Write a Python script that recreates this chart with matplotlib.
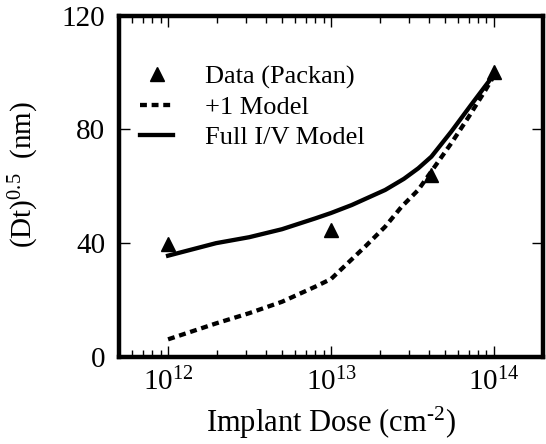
import numpy as np
import matplotlib.pyplot as plt

plt.rcParams['font.family'] = ['Liberation Serif', 'DejaVu Serif']
plt.rcParams['mathtext.fontset'] = 'custom'
plt.rcParams['mathtext.rm'] = 'Liberation Serif'
plt.rcParams['mathtext.it'] = 'Liberation Serif:italic'

# values
data_dose = [1e12, 1e13, 4.1e13, 1e14]
data_dt = [39.7, 44.6, 64, 100]

plus1_dose = [1e12, 1.97e12, 3.15e12, 5e12, 8e12, 1e13, 1.62e13, 2.15e13,
              2.71e13, 3.43e13, 4.33e13, 5.47e13, 7e13, 8.87e13, 1e14]
plus1_dt = [6.2, 11.8, 15.4, 19.4, 24.7, 27.4, 38.8, 45.8,
            52.8, 58.7, 66.9, 75.1, 84.4, 93.8, 98.8]

full_dose = [1e12, 1.97e12, 3.15e12, 5e12, 8e12, 1e13, 1.34e13, 2.15e13,
             2.8e13, 3.43e13, 4.13e13, 5.47e13, 7.24e13, 9.6e13, 1e14]
full_dt = [35.6, 40.0, 42.1, 44.9, 48.7, 50.6, 53.4, 58.7,
           62.6, 66.3, 70.4, 79.2, 88.6, 97.9, 99.7]

fig = plt.figure(figsize=(5.46, 4.44), dpi=100)
ax = fig.add_axes([0.218, 0.196, 0.7765, 0.769])

ax.plot(data_dose, data_dt, linestyle='none', marker='^', color='black',
        markersize=9.5, label='Data (Packan)')
ax.plot(plus1_dose, plus1_dt, color='black', linewidth=3.1, dashes=(1.6, 1.1),
        label='+1 Model')
ax.plot(full_dose, full_dt, color='black', linewidth=3.1, label='Full I/V Model')

ax.set_xscale('log')
ax.set_xlim(5e11, 2e14)
ax.set_ylim(0, 120)
ax.set_xticks([1e12, 1e13, 1e14])
ax.set_xticklabels([r'$10^{12}$', r'$10^{13}$', r'$10^{14}$'])
ax.set_yticks([0, 40, 80, 120])

for s in ax.spines.values():
    s.set_linewidth(3.2)
ax.tick_params(which='both', direction='in', top=True, right=True, width=1)
ax.tick_params(which='major', length=8)
ax.tick_params(which='minor', length=5)
ax.tick_params(axis='x', labelsize=21, pad=8)
ax.tick_params(axis='y', labelsize=21, pad=10)

ax.set_xlabel('Implant Dose (cm$^{\u20102}$)', fontsize=22, labelpad=6)
ax.set_ylabel(r'(Dt)$^{0.5}$  (nm)', fontsize=21)
ax.yaxis.set_label_coords(-0.185, 0.535)

ax.legend(loc='upper left', bbox_to_anchor=(0.05, 0.855), frameon=False,
          fontsize=19, handlelength=1.25, handletextpad=1.2, labelspacing=0.25,
          borderpad=0, borderaxespad=0, numpoints=1)

fig.savefig('out.png', dpi=100)
